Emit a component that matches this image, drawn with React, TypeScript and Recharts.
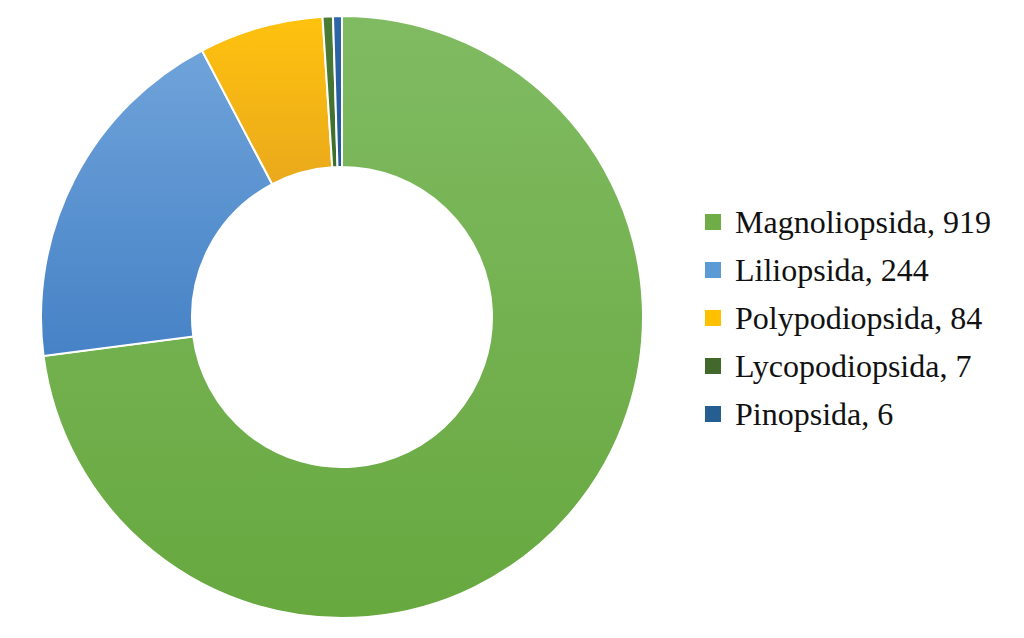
import {PieChart, Pie, Cell, Legend} from 'recharts';

const NAMES = ['Magnoliopsida', 'Liliopsida', 'Polypodiopsida', 'Lycopodiopsida', 'Pinopsida'];
const COUNTS = [919, 244, 84, 7, 6];
const TOP_COLORS = ['#80bb62', '#6fa3da', '#ffc20e', '#4b7c36', '#2f66a8'];
const BOTTOM_COLORS = ['#67a83f', '#4682c6', '#eaa91c', '#3e6d2c', '#24589a'];
const SWATCHES = ['#70ad47', '#5b9bd5', '#ffc000', '#43682b', '#255e91'];

const data = NAMES.map((name, i) => ({name, value: COUNTS[i]}));

const renderLegend = () => (
    <div style={{fontFamily: '"Times New Roman", "Liberation Serif", Tinos, "DejaVu Serif", serif', fontSize: 32, color: '#111', lineHeight: '48px'}}>
        {data.map((d, i) => (
            <div key={d.name} style={{display: 'flex', alignItems: 'center', height: 48}}>
                <span style={{width: 16, height: 16, background: SWATCHES[i], marginRight: 14, display: 'inline-block'}}/>
                <span>{`${d.name}, ${d.value}`}</span>
            </div>
        ))}
    </div>
);

const App = () => {
    return (
        <div style={{position: 'absolute', left: 0, top: 0, background: '#fff'}}>
            <PieChart width={1024} height={638} margin={{top: 0, right: 0, bottom: 0, left: 0}}>
                <defs>
                    {data.map((_, i) => (
                        <linearGradient key={`g-${i}`} id={`grad-${i}`} x1='0' y1='0' x2='0' y2='1'>
                            <stop offset='0%' stopColor={TOP_COLORS[i]}/>
                            <stop offset='100%' stopColor={BOTTOM_COLORS[i]}/>
                        </linearGradient>
                    ))}
                </defs>
                <Pie
                    data={data}
                    cx={342}
                    cy={317}
                    innerRadius={150}
                    outerRadius={301}
                    startAngle={90}
                    endAngle={-270}
                    dataKey='value'
                    stroke='#ffffff'
                    strokeWidth={2}
                    isAnimationActive={false}
                >
                    {data.map((_, index) => (
                        <Cell key={`cell-${index}`} fill={`url(#grad-${index})`}/>
                    ))}
                </Pie>
                <Legend
                    layout='vertical'
                    align='right'
                    verticalAlign='top'
                    content={renderLegend}
                    wrapperStyle={{left: 705, top: 198, width: 315}}
                />
            </PieChart>
        </div>
    );
};

export default App;
